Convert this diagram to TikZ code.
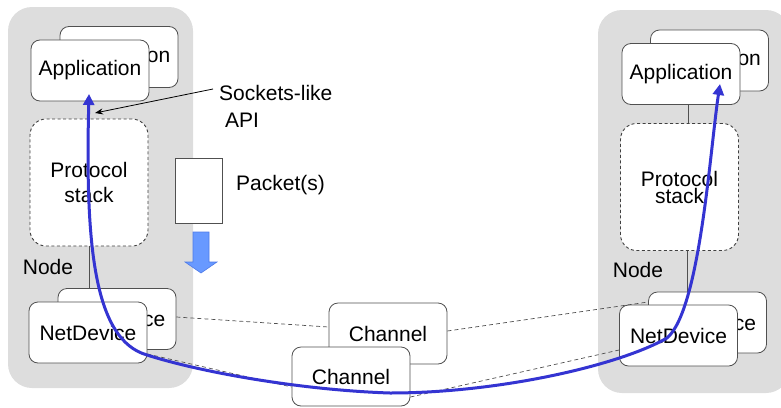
\documentclass[tikz,border=0pt]{standalone}
\usepackage{fontspec}
\setmainfont{Liberation Sans}
\usetikzlibrary{arrows.meta,calc}
\definecolor{nodegray}{RGB}{221,221,221}
\definecolor{edgegray}{RGB}{80,80,80}
\definecolor{flowblue}{RGB}{52,52,210}
\definecolor{pktfill}{RGB}{104,153,255}
\definecolor{pktdraw}{RGB}{78,122,232}
\tikzset{
  box/.style={draw=edgegray, line width=0.8pt, fill=white, rounded corners=9pt,
    minimum width=118pt, minimum height=61pt, inner sep=0pt},
  stackbox/.style={draw=edgegray!80!black, line width=0.9pt, dashed, dash pattern=on 3pt off 2.5pt,
    fill=white, rounded corners=16pt, minimum width=118pt, minimum height=127pt,
    inner sep=0pt, align=center},
  nodebg/.style={fill=nodegray, rounded corners=24pt},
  link/.style={draw=edgegray, line width=0.7pt, dashed, dash pattern=on 4pt off 3pt},
  solidlink/.style={draw=edgegray, line width=0.7pt},
  flow/.style={draw=flowblue, line width=3pt, {Triangle[width=11pt,length=11pt]}-{Triangle[width=11pt,length=11pt]}},
  lbl/.style={inner sep=0pt}
}
\begin{document}
\begin{tikzpicture}[x=1pt,y=-1pt,font=\fontsize{21}{25}\selectfont]
\useasboundingbox (0,0) rectangle (781,407);
\clip (0,0) rectangle (781,407);
% node backgrounds
\fill[nodebg] (8,7) rectangle (193,388);
\fill[nodebg] (598,10) rectangle (790,393);
% left node
\node[box] (appLb) at (119,57) {Application};
\node[box] (appLf) at (90,70.5) {Application};
\node[stackbox] (protL) at (89,182.5) {Protocol\\stack};
\node[lbl] (nodeL) at (48,267) {Node};
\draw[solidlink] (protL.south) -- (protL.south |- 0,289);
\node[box] (ndLb) at (117,319) {NetDevice};
\node[box] (ndLf) at (88,332.5) {NetDevice};
% right node
\node[box] (appRb) at (709.5,60.5) {Application};
\node[box] (appRf) at (681,74) {Application};
\draw[solidlink] ([xshift=7pt]appRf.south) -- ([xshift=7pt]appRf.south |- 0,124);
\node[stackbox, font=\fontsize{21}{17}\selectfont] (protR) at (679.5,187) {Protocol\\stack};
\node[lbl] (nodeR) at (638,270) {Node};
\draw[solidlink] ([xshift=7.5pt]protR.south) -- ([xshift=7.5pt]protR.south |- 0,292);
\node[box] (ndRb) at (707.5,322.5) {NetDevice};
\node[box] (ndRf) at (678.5,335.5) {NetDevice};
% channels
\node[box] (chB) at (388,333.5) {Channel};
\node[box, minimum height=59pt] (chF) at (351,376.5) {Channel};
% dashed links
\draw[link] ([yshift=2pt]ndLb.east) -- ([yshift=6.5pt]chB.west);
\draw[link] ([yshift=-21.5pt]ndLf.east) -- ([yshift=-10.5pt]chF.west);
\draw[link] ([yshift=2.5pt]chB.east) -- ([yshift=20.5pt]ndRb.west);
\draw[link] ([yshift=-20.5pt]chF.east) -- ([yshift=-14.5pt]ndRf.west);
% packet
\node[draw=edgegray, line width=0.8pt, fill=white, minimum width=47pt, minimum height=65pt, inner sep=0pt] (pkt) at (198.5,190.5) {};
\node[lbl, anchor=west] (pktlbl) at (236,185) {Packet(s)};
\draw[fill=pktfill, draw=pktdraw, line width=0.6pt]
  (193,232) -- (209,232) -- (209,262) -- (217,262) -- (201,273) -- (185,262) -- (193,262) -- cycle;
% API label
\node[lbl, anchor=west, align=left, font=\fontsize{21}{27}\selectfont] (api) at (219,106) {Sockets-like\\\hspace*{6pt}API};
\coordinate (apiStart) at (213,89);
\coordinate (apiEnd) at (95,113);
\draw[line width=0.8pt, black, -{Stealth[length=8pt,width=6pt]}] (apiStart) -- (apiEnd);
% packet flow
\coordinate (tipL) at (89,94);
\coordinate (tipR) at (720,84);
\draw[flow] (tipL) .. controls (85,250) and (95,340) .. (147,355)
  .. controls (200,372) and (300,390) .. (390,393)
  .. controls (500,393) and (620,365) .. (667,338)
  .. controls (700,310) and (710,150) .. (tipR);
\end{tikzpicture}
\end{document}
